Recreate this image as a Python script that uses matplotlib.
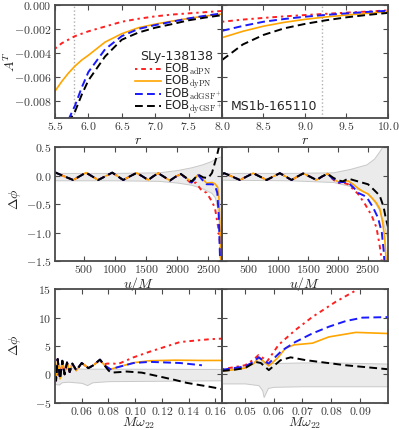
import numpy as np
import matplotlib
matplotlib.use('Agg')
import matplotlib.pyplot as plt

plt.rcParams['mathtext.fontset'] = 'cm'
plt.rcParams['font.family'] = ['DejaVu Sans']
plt.rcParams['text.color'] = '#262626'
plt.rcParams['axes.labelcolor'] = '#262626'

C_RED, C_ORA, C_BLU, C_BLK = '#ff2020', '#ffa500', '#1a1aff', 'black'
LS_RED = (0, (1.2, 2.0, 2.4, 2.0))
LS_DASH = (0, (4.0, 2.2))
BAND_FC, BAND_EC = '#ebebeb', '#c8c8c8'
labels = [r'EOB$_{\rm adPN}$', r'EOB$_{\rm dyPN}$',
          r'EOB$_{\rm adGSF^+}$', r'EOB$_{\rm dyGSF^+}$']

# ---- top row: A^T vs r ----
r_l = [5.5, 5.6, 5.7, 5.8, 5.9, 6.0, 6.25, 6.5, 6.75, 7.0, 7.25, 7.5, 7.75, 8.0]
AT_l_adPN = [-0.00365, -0.0032, -0.0029, -0.0026, -0.0024, -0.0022, -0.0018, -0.0014,
             -0.00115, -0.00095, -0.0008, -0.0007, -0.0006, -0.0005]
AT_l_dyPN = [-0.0072, -0.0064, -0.0057, -0.0051, -0.0046, -0.0042, -0.0031, -0.0024,
             -0.0019, -0.0016, -0.00135, -0.00112, -0.00092, -0.00076]
r_l2 = [5.7, 5.8, 5.9, 6.0, 6.25, 6.5, 6.75, 7.0, 7.25, 7.5, 7.75, 8.0]
AT_l_adGSF = [-0.0096, -0.0084, -0.0069, -0.0056, -0.0037, -0.0026, -0.002, -0.00168,
              -0.0014, -0.00112, -0.0009, -0.0007]
AT_l_dyGSF = [-0.0098, -0.0089, -0.0075, -0.0063, -0.0043, -0.0029, -0.0023, -0.0019,
              -0.0016, -0.00128, -0.00105, -0.00085]
r_mark_l = 5.78

r_r = [8.0, 8.25, 8.5, 8.75, 9.0, 9.25, 9.5, 9.75, 10.0]
AT_r_adPN = [-0.0014, -0.00122, -0.00108, -0.00095, -0.00084, -0.00074, -0.00064, -0.00055, -0.00045]
AT_r_dyPN = [-0.00273, -0.0022, -0.00177, -0.00145, -0.0012, -0.001, -0.00084, -0.0007, -0.00056]
AT_r_adGSF = [-0.00216, -0.00175, -0.0014, -0.00117, -0.00098, -0.00083, -0.0007, -0.00058, -0.00048]
AT_r_dyGSF = [-0.0046, -0.0033, -0.0025, -0.00195, -0.00158, -0.00128, -0.00103, -0.00083, -0.00066]
r_mark_r = 9.2

# ---- middle row: dphi vs u/M ----
u_osc_l = [34, 181, 328, 430, 532, 631, 730, 842, 955, 1043, 1132, 1240, 1347, 1440,
           1534, 1615, 1695, 1790, 1883, 1970, 2060]
d_osc_l = [0.06, -0.01, -0.075, -0.01, 0.055, -0.01, -0.075, -0.01, 0.055, -0.01, -0.075,
           -0.01, 0.05, -0.01, -0.075, -0.01, 0.045, -0.02, -0.085, -0.02, 0.03]
u_l_adPN = [2150, 2232, 2300, 2392, 2473, 2540, 2606, 2660, 2685, 2698, 2710]
d_l_adPN = [-0.06, -0.14, -0.12, -0.26, -0.3, -0.42, -0.56, -0.91, -1.15, -1.38, -1.7]
u_l_dyPN = [2150, 2232, 2338, 2410, 2473, 2560, 2606, 2650, 2672, 2685, 2695, 2705]
d_l_dyPN = [-0.04, -0.11, 0.02, -0.06, -0.13, -0.12, -0.14, -0.2, -0.4, -0.8, -1.2, -1.7]
u_l_adGSF = [2150, 2232, 2338, 2410, 2473, 2560, 2606, 2645, 2668, 2682, 2695]
d_l_adGSF = [-0.05, -0.12, 0.01, -0.08, -0.15, -0.15, -0.17, -0.3, -0.7, -1.2, -1.7]
u_l_dyGSF = [2150, 2232, 2338, 2420, 2499, 2560, 2606, 2640, 2671, 2690]
d_l_dyGSF = [-0.04, -0.1, 0.02, -0.03, -0.04, 0.05, 0.23, 0.36, 0.5, 0.62]
u_band_l = [34, 1000, 1700, 2000, 2232, 2400, 2550, 2606, 2650, 2700, 2720]
band_l_hi = [0.05, 0.05, 0.06, 0.1, 0.15, 0.2, 0.26, 0.3, 0.32, 0.34, 0.35]
band_l_lo = [-0.08, -0.08, -0.09, -0.12, -0.16, -0.22, -0.3, -0.38, -0.6, -1.2, -1.6]

u_osc_r = [62, 100, 231, 362, 472, 583, 695, 807, 917, 1028, 1125, 1223, 1320, 1417,
           1528, 1640, 1730, 1823]
d_osc_r = [0.03, 0.045, -0.015, -0.075, -0.015, 0.045, -0.015, -0.075, -0.015, 0.045,
           -0.015, -0.075, -0.015, 0.04, -0.015, -0.075, -0.015, 0.035]
u_r_adPN = [1910, 2000, 2080, 2167, 2333, 2450, 2560, 2640, 2690, 2723, 2745]
d_r_adPN = [-0.06, -0.13, -0.12, -0.15, -0.32, -0.5, -0.7, -0.91, -1.2, -1.44, -1.7]
u_r_dyPN = [1910, 2000, 2080, 2167, 2250, 2333, 2420, 2500, 2557, 2640, 2695, 2740, 2778, 2800, 2812]
d_r_dyPN = [-0.04, -0.11, -0.1, -0.09, -0.15, -0.22, -0.28, -0.32, -0.38, -0.48, -0.58,
            -0.8, -1.09, -1.45, -1.7]
u_r_adGSF = [1910, 2000, 2080, 2167, 2250, 2333, 2473, 2580, 2667, 2730, 2762, 2785]
d_r_adGSF = [-0.05, -0.12, -0.11, -0.12, -0.2, -0.3, -0.37, -0.55, -0.74, -1.0, -1.33, -1.7]
u_r_dyGSF = [1910, 2000, 2080, 2167, 2333, 2500, 2600, 2695, 2760, 2795, 2833]
d_r_dyGSF = [-0.03, -0.08, -0.1, -0.05, -0.1, -0.15, -0.25, -0.35, -0.55, -0.74, -0.9]
u_band_r = [62, 1200, 1917, 2200, 2473, 2600, 2695, 2760, 2833]
band_r_hi = [0.05, 0.05, 0.06, 0.12, 0.2, 0.3, 0.44, 0.55, 0.8]
band_r_lo = [-0.07, -0.08, -0.11, -0.18, -0.3, -0.45, -0.62, -0.85, -1.15]

# ---- bottom row: dphi vs M omega_22 ----
w_osc_l = [0.0400, 0.0408, 0.0420, 0.0438, 0.0455, 0.0472, 0.0490, 0.0510, 0.0530,
           0.0560, 0.0600, 0.0650, 0.0687, 0.0737]
p_osc_l = [1.8, -1.1, 2.7, -0.8, 2.4, 0.0, 2.1, 0.4, 1.9, 0.7, 2.0, 1.1, 1.6, 2.6]
w_l_adPN = [0.0760, 0.0790, 0.0840, 0.0870, 0.0988, 0.111, 0.1336, 0.156, 0.165]
p_l_adPN = [1.7, 1.9, 1.9, 1.8, 3.0, 4.0, 5.7, 6.2, 6.3]
w_l_dyPN = [0.0770, 0.0815, 0.0860, 0.0988, 0.111, 0.130, 0.150, 0.165]
p_l_dyPN = [1.6, 0.9, 1.2, 2.05, 2.4, 2.5, 2.45, 2.45]
w_l_adGSF = [0.0770, 0.0815, 0.0860, 0.0988, 0.111, 0.1336, 0.150]
p_l_adGSF = [1.6, 0.9, 1.2, 2.0, 2.2, 2.0, 1.6]
w_l_dyGSF = [0.0770, 0.0800, 0.0820, 0.0886, 0.0936, 0.105, 0.1186, 0.130, 0.1386, 0.156, 0.165]
p_l_dyGSF = [1.6, 0.7, 0.3, 0.4, 0.5, 0.3, -0.4, -1.0, -1.5, -2.2, -2.6]
w_band_l = [0.040, 0.043, 0.045, 0.050, 0.055, 0.060, 0.064, 0.068, 0.080, 0.165]
band_bl_hi = [1.8, 1.6, 1.5, 1.2, 1.1, 1.0, 1.0, 1.0, 1.0, 0.95]
band_bl_lo = [-1.7, -1.8, -1.4, -1.3, -1.4, -1.5, -1.9, -1.4, -1.2, -1.05]

w_r_adPN = [0.042, 0.050, 0.053, 0.0547, 0.0565, 0.0576, 0.0617, 0.0675, 0.0734, 0.0816, 0.0886, 0.0905]
p_r_adPN = [0.9, 1.6, 2.6, 3.4, 2.8, 2.2, 5.2, 7.8, 10.1, 12.8, 14.8, 15.5]
w_r_dyPN = [0.042, 0.046, 0.050, 0.053, 0.055, 0.0565, 0.0583, 0.0612, 0.0641, 0.0671,
            0.0735, 0.0792, 0.0886, 0.0998]
p_r_dyPN = [0.6, 0.8, 1.1, 1.9, 3.0, 2.3, 1.5, 2.8, 4.6, 5.2, 5.5, 6.6, 7.4, 7.2]
w_r_adGSF = [0.042, 0.050, 0.053, 0.0547, 0.0565, 0.0582, 0.0629, 0.0675, 0.0734, 0.0792,
             0.0851, 0.0909, 0.0998]
p_r_adGSF = [0.8, 1.4, 2.2, 3.0, 2.4, 1.9, 4.2, 5.7, 7.2, 8.4, 9.4, 10.0, 10.1]
w_r_dyGSF = [0.042, 0.046, 0.050, 0.0536, 0.0555, 0.0583, 0.0624, 0.0659, 0.0712, 0.0851, 0.0998]
p_r_dyGSF = [0.6, 0.8, 1.1, 2.2, 2.0, 0.75, 2.5, 3.0, 2.5, 1.6, 0.9]
w_band_r = [0.042, 0.050, 0.053, 0.0547, 0.0560, 0.0565, 0.058, 0.060, 0.070, 0.080, 0.090, 0.0998]
band_br_hi = [0.9, 1.4, 2.0, 3.3, 2.2, 2.0, 2.0, 2.0, 2.1, 2.1, 2.0, 1.9]
band_br_lo = [-1.6, -1.6, -1.8, -1.9, -2.8, -4.0, -2.4, -2.2, -2.1, -2.1, -2.1, -2.1]

# ticks
r_ticks_l = [5.5, 6.0, 6.5, 7.0, 7.5, 8.0]
r_ticks_r = [8.0, 8.5, 9.0, 9.5, 10.0]
AT_ticks = [-0.008, -0.006, -0.004, -0.002, 0.0]
u_ticks = [500, 1000, 1500, 2000, 2500]
dphi_ticks_mid = [-1.5, -1.0, -0.5, 0.0, 0.5]
w_ticks_l = [0.06, 0.08, 0.10, 0.12, 0.14, 0.16]
w_ticks_r = [0.05, 0.06, 0.07, 0.08, 0.09]
dphi_ticks_bot = [-5, 0, 5, 10, 15]


def mlabels(vals, nd):
    return ['$%.*f$' % (nd, v) for v in vals]


fig = plt.figure(figsize=(3.99, 4.30), dpi=100)
xl, wl, xr, wr = 0.1378, 0.4185, 0.5564, 0.416
rows = [(0.7267, 0.2617), (0.393, 0.2644), (0.0635, 0.2637)]
axes = []
for b, h in rows:
    a1 = fig.add_axes([xl, b, wl, h])
    a2 = fig.add_axes([xr, b, wr, h])
    axes.append((a1, a2))

for pair in axes:
    for ax in pair:
        ax.set_facecolor('none')
        for s in ax.spines.values():
            s.set_color('#4a4a4a')
            s.set_linewidth(1.3)
        ax.tick_params(direction='in', top=True, right=True, length=3.5, width=0.8,
                       color='#4a4a4a', labelsize=8.5, labelcolor='#3a3a3a')
        ax.tick_params(axis='x', pad=1.5)
        ax.tick_params(axis='y', pad=2.5)


def curves(ax, data):
    x0, y0, x1, y1, x2, y2, x3, y3 = data
    ax.plot(x0, y0, color=C_RED, ls=LS_RED, lw=1.4, label=labels[0])
    ax.plot(x1, y1, color=C_ORA, ls='-', lw=1.2, label=labels[1])
    ax.plot(x2, y2, color=C_BLU, ls=LS_DASH, lw=1.4, label=labels[2])
    ax.plot(x3, y3, color=C_BLK, ls=LS_DASH, lw=1.4, label=labels[3])


# top row
ax, bx = axes[0]
ax.axvline(r_mark_l, color='#b0b0b0', ls=':', lw=1.0)
curves(ax, (r_l, AT_l_adPN, r_l, AT_l_dyPN, r_l2, AT_l_adGSF, r_l2, AT_l_dyGSF))
bx.axvline(r_mark_r, color='#b0b0b0', ls=':', lw=1.0)
curves(bx, (r_r, AT_r_adPN, r_r, AT_r_dyPN, r_r, AT_r_adGSF, r_r, AT_r_dyGSF))
ax.set_xlim(5.5, 8.0)
bx.set_xlim(8.0, 10.0)
for a in (ax, bx):
    a.set_ylim(-0.0094, 0.0)
    a.set_yticks(AT_ticks)
    a.set_xlabel('$r$', fontsize=10)
    a.xaxis.set_label_coords(0.5, -0.14)
ax.set_xticks(r_ticks_l)
ax.set_xticklabels(mlabels(r_ticks_l[:-1], 1) + [''])
bx.set_xticks(r_ticks_r)
bx.set_xticklabels(mlabels(r_ticks_r, 1))
ax.set_yticklabels(mlabels(AT_ticks, 3))
bx.set_yticklabels([])
ax.set_ylabel('$A^T$', fontsize=10)
ax.yaxis.set_label_coords(-0.22, 0.5)
ax.text(0.509, 0.51, 'SLy-138138', transform=ax.transAxes, fontsize=9, zorder=10)
bx.text(0.05, 0.07, 'MS1b-165110', transform=bx.transAxes, fontsize=9)
leg = ax.legend(loc='upper left', bbox_to_anchor=(0.45, 0.535), frameon=False,
                fontsize=8.5, handlelength=2.2, handletextpad=0.3,
                labelspacing=-0.32, borderaxespad=0)
leg.set_zorder(10)

# middle row
ax, bx = axes[1]
ax.fill_between(u_band_l, band_l_lo, band_l_hi, facecolor=BAND_FC, edgecolor=BAND_EC, lw=0.7)
curves(ax, (u_osc_l + u_l_adPN, d_osc_l + d_l_adPN, u_osc_l + u_l_dyPN, d_osc_l + d_l_dyPN,
            u_osc_l + u_l_adGSF, d_osc_l + d_l_adGSF, u_osc_l + u_l_dyGSF, d_osc_l + d_l_dyGSF))
bx.fill_between(u_band_r, band_r_lo, band_r_hi, facecolor=BAND_FC, edgecolor=BAND_EC, lw=0.7)
curves(bx, (u_osc_r + u_r_adPN, d_osc_r + d_r_adPN, u_osc_r + u_r_dyPN, d_osc_r + d_r_dyPN,
            u_osc_r + u_r_adGSF, d_osc_r + d_r_adGSF, u_osc_r + u_r_dyGSF, d_osc_r + d_r_dyGSF))
ax.set_xlim(34, 2720)
bx.set_xlim(62, 2833)
for a in (ax, bx):
    a.set_ylim(-1.5, 0.5)
    a.set_yticks(dphi_ticks_mid)
    a.set_xticks(u_ticks)
    a.set_xticklabels(mlabels(u_ticks, 0))
    a.set_xlabel('$u/M$', fontsize=10)
    a.xaxis.set_label_coords(0.5, -0.12)
ax.set_yticklabels(mlabels(dphi_ticks_mid, 1))
bx.set_yticklabels([])
ax.set_ylabel(r'$\Delta\phi$', fontsize=10)
ax.yaxis.set_label_coords(-0.19, 0.54)

# bottom row
ax, bx = axes[2]
ax.fill_between(w_band_l, band_bl_lo, band_bl_hi, facecolor=BAND_FC, edgecolor=BAND_EC, lw=0.7)
curves(ax, (w_osc_l + w_l_adPN, p_osc_l + p_l_adPN, w_osc_l + w_l_dyPN, p_osc_l + p_l_dyPN,
            w_osc_l + w_l_adGSF, p_osc_l + p_l_adGSF, w_osc_l + w_l_dyGSF, p_osc_l + p_l_dyGSF))
bx.fill_between(w_band_r, band_br_lo, band_br_hi, facecolor=BAND_FC, edgecolor=BAND_EC, lw=0.7)
curves(bx, (w_r_adPN, p_r_adPN, w_r_dyPN, p_r_dyPN, w_r_adGSF, p_r_adGSF, w_r_dyGSF, p_r_dyGSF))
ax.set_xlim(0.04, 0.165)
bx.set_xlim(0.042, 0.0998)
ax.set_xticks(w_ticks_l)
ax.set_xticklabels(mlabels(w_ticks_l, 2))
bx.set_xticks(w_ticks_r)
bx.set_xticklabels(mlabels(w_ticks_r, 2))
for a in (ax, bx):
    a.set_ylim(-5, 15)
    a.set_yticks(dphi_ticks_bot)
    a.set_xlabel(r'$M\omega_{22}$', fontsize=10)
    a.xaxis.set_label_coords(0.5, -0.115)
ax.set_yticklabels(mlabels(dphi_ticks_bot, 0))
bx.set_yticklabels([])
ax.set_ylabel(r'$\Delta\phi$', fontsize=10)
ax.yaxis.set_label_coords(-0.19, 0.51)

fig.savefig('out.png', dpi=100)
